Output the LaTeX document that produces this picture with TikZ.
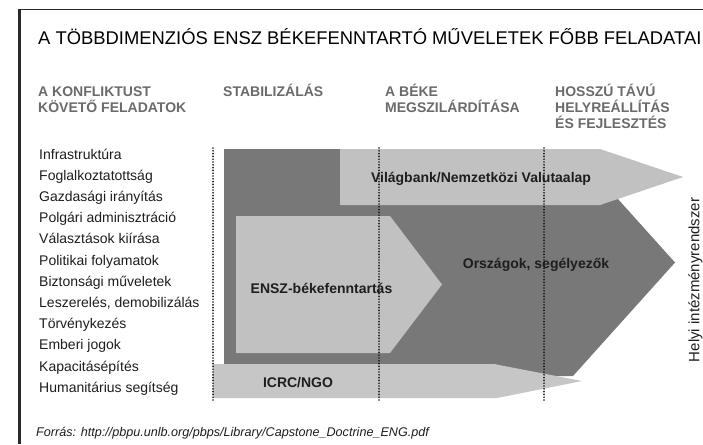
\documentclass[tikz,border=0pt]{standalone}
\usepackage{fontspec}
\setmainfont{Liberation Sans}
\definecolor{shDark}{HTML}{787878}
\definecolor{shLight}{HTML}{C1C1C1}
\definecolor{shLightB}{HTML}{C6C6C6}
\definecolor{hdrGray}{HTML}{6B6B6B}
\definecolor{txtDark}{HTML}{1E1E1E}
\definecolor{dotCol}{HTML}{1A1A1A}
\definecolor{frameCol}{HTML}{2A2A2A}
\begin{document}
\begin{tikzpicture}[x=1pt,y=-1pt,
  darkfill/.style={fill=shDark,draw=none},
  lightfill/.style={fill=shLight,draw=none},
  lbl/.style={font=\bfseries\fontsize{14}{16}\selectfont,text=txtDark,inner sep=0pt,anchor=base},
  hdr/.style={font=\bfseries\fontsize{14}{16}\selectfont,text=hdrGray,inner sep=0pt,anchor=base west},
  item/.style={font=\fontsize{14}{16}\selectfont,text=txtDark,inner sep=0pt,anchor=base west},
  phase/.style={line width=1.9pt,dash pattern=on 0pt off 2.8pt,line cap=round,draw=dotCol}]
\useasboundingbox (0,0) rectangle (703,444);
\clip (0,0) rectangle (703,444);
\fill[white] (0,0) rectangle (703,444);
% frame
\coordinate (fTL) at (19.5,9);
\coordinate (fBL) at (19.5,444);
\coordinate (fTR) at (703,9.5);
\draw[line width=2.5pt,draw=frameCol] (fTL) -- (fBL);
\draw[line width=1.5pt,draw=frameCol] (18.25,9.5) -- (fTR);
% title
\node[anchor=base west,inner sep=0pt,font=\fontsize{18.4}{21}\selectfont,text=black] (title) at (38,45)
  {A TÖBBDIMENZIÓS ENSZ BÉKEFENNTARTÓ MŰVELETEK FŐBB FELADATAI};
% column headers
\node[hdr] (h1a) at (38,96) {A KONFLIKTUST};
\node[hdr] (h1b) at (38,112) {KÖVETŐ FELADATOK};
\node[hdr] (h2a) at (223,96) {STABILIZÁLÁS};
\node[hdr] (h3a) at (385,96) {A BÉKE};
\node[hdr] (h3b) at (385,112) {MEGSZILÁRDÍTÁSA};
\node[hdr] (h4a) at (555,96) {HOSSZÚ TÁVÚ};
\node[hdr] (h4b) at (555,112) {HELYREÁLLÍTÁS};
\node[hdr] (h4c) at (555,128) {ÉS FEJLESZTÉS};
% task list
\foreach \t [count=\i from 0] in {Infrastruktúra,Foglalkoztatottság,Gazdasági irányítás,Polgári adminisztráció,Választások kiírása,Politikai folyamatok,Biztonsági műveletek,{Leszerelés, demobilizálás},Törvénykezés,Emberi jogok,Kapacitásépítés,Humanitárius segítség}
  \node[item] (task\i) at (39,{159+\i*21.2}) {\t};
% shapes
\fill[darkfill] (224,149) -- (573,149) -- (675,262.5) -- (573,376) -- (224,376) -- cycle;
\fill[lightfill] (340,149) -- (600,149) -- (683,177) -- (600,205) -- (340,205) -- cycle;
\fill[lightfill] (236,216) -- (390,216) -- (442,284.5) -- (390,353) -- (236,353) -- cycle;
\fill[fill=shLightB] (213,364) -- (494,364) -- (582,381) -- (497,398) -- (213,398) -- cycle;
% labels
\node[lbl] (wb) at (481,182) {Világbank/Nemzetközi Valutaalap};
\node[lbl] (orsz) at (536,268) {Országok, segélyezők};
\node[lbl] (ensz) at (321.5,293) {ENSZ-békefenntartás};
\node[lbl] (icrc) at (298,387) {ICRC/NGO};
% rotated side label
\node[font=\fontsize{15}{17}\selectfont,text=txtDark,rotate=90,anchor=base,inner sep=0pt] (helyi) at (699.3,280) {Helyi intézményrendszer};
% phase separators
\coordinate (p1t) at (213,148); \coordinate (p1b) at (213,400);
\coordinate (p2t) at (379,148); \coordinate (p2b) at (379,400);
\coordinate (p3t) at (544,148); \coordinate (p3b) at (544,400);
\draw[phase] (p1t) -- (p1b);
\draw[phase] (p2t) -- (p2b);
\draw[phase] (p3t) -- (p3b);
% source
\node[font=\itshape\fontsize{12.6}{14}\selectfont,text=txtDark,anchor=base west,inner sep=0pt] (src) at (36,436)
  {Forrás: http://pbpu.unlb.org/pbps/Library/Capstone\_Doctrine\_ENG.pdf};
\end{tikzpicture}
\end{document}
